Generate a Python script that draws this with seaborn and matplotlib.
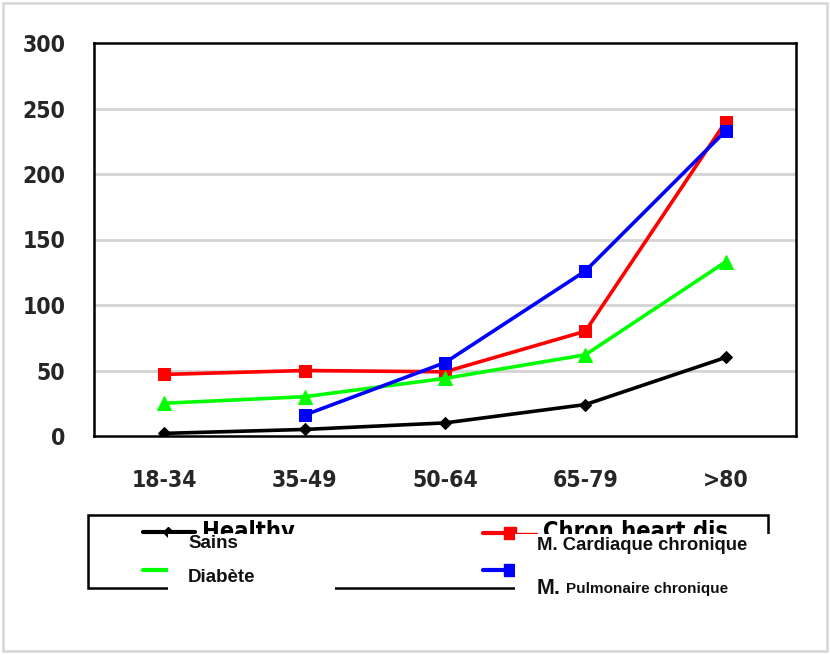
import numpy as np
import pandas as pd
import matplotlib
matplotlib.use("Agg")
import matplotlib.pyplot as plt
from matplotlib.lines import Line2D
from matplotlib.patches import Rectangle
from matplotlib.font_manager import FontProperties
import seaborn as sns

# ---- data ----
categories = ["18-34", "35-49", "50-64", "65-79", ">80"]
sains = [2, 5, 10, 24, 60]
cardiaque = [47, 50, 49, 80, 240]
diabete = [25, 30, 44, 62, 133]
pulmonaire = [np.nan, 16, 56, 126, 233]
y_ticks = [0, 50, 100, 150, 200, 250, 300]

series = [
    ("Sains", sains, "#000000", "D", 6),
    ("M. Cardiaque chronique", cardiaque, "#ff0000", "s", 9),
    ("Diabète", diabete, "#00ff00", "^", 10),
    ("M. Pulmonaire chronique", pulmonaire, "#0000ff", "s", 9),
]

sns.set_style("white")
arial = ["Liberation Sans", "DejaVu Sans"]
plt.rcParams["font.family"] = arial

def narrow(size):
    return FontProperties(family="DejaVu Sans", stretch="condensed",
                          weight="bold", size=size)

W, H = 830, 655
fig = plt.figure(figsize=(W / 100, H / 100), dpi=100)
fig.patch.set_facecolor("white")

def px(x0, y0, x1, y1):
    return [x0 / W, 1 - y1 / H, (x1 - x0) / W, (y1 - y0) / H]

ax = fig.add_axes(px(94, 43, 796, 436))
pos = np.arange(len(categories))
for name, vals, col, mk, ms in series:
    df = pd.DataFrame({"x": pos, "y": vals}).dropna()
    sns.lineplot(data=df, x="x", y="y", ax=ax, color=col, marker=mk,
                 markersize=ms, markeredgecolor=col, linewidth=2.6,
                 legend=False, zorder=3)

ax.set_xlim(-0.5, len(categories) - 0.5)
ax.set_ylim(0, 300)
ax.set_xlabel("")
ax.set_ylabel("")
ax.set_yticks(y_ticks)
ax.set_yticklabels([str(v) for v in y_ticks], fontproperties=narrow(16.5))
ax.set_xticks(pos)
ax.set_xticklabels(categories, fontproperties=narrow(16.5))
ax.set_xticks(np.arange(-0.5, len(categories)), minor=True)
ax.tick_params(axis="x", which="major", length=0, pad=24)
ax.tick_params(axis="x", which="minor", length=6.5, width=1.6, color="black",
               direction="out")
ax.tick_params(axis="y", which="major", length=6.5, width=1.6, color="black",
               direction="out", pad=14)
for v in y_ticks[1:-1]:
    ax.axhline(v, color="#d4d4d4", linewidth=2, zorder=1)
for s in ax.spines.values():
    s.set_visible(True)
    s.set_color("black")
    s.set_linewidth(1.8)

# ---- overlay for legend and frame (pixel coordinates) ----
ov = fig.add_axes([0, 0, 1, 1], zorder=10)
ov.set_xlim(0, W)
ov.set_ylim(H, 0)
ov.axis("off")
ov.patch.set_alpha(0)

ov.add_patch(Rectangle((3, 3), 824, 648, fill=False, edgecolor="#d6d6d6", lw=1.8))

# old legend box
ov.add_patch(Rectangle((88, 515), 680, 73, fill=False, edgecolor="black", lw=1.8))
ov.add_line(Line2D([143, 195], [532, 532], color=series[0][2], lw=3))
ov.add_line(Line2D([168], [532], color=series[0][2], marker="D", ms=5))
ov.text(202, 520, "Healthy", fontproperties=narrow(17),
        va="top", ha="left", color="black")
ov.add_line(Line2D([483, 510], [533, 533], color=series[1][2], lw=3))
ov.add_line(Line2D([510, 537], [533, 533], color=series[1][2], lw=1))
ov.add_line(Line2D([510], [533], color=series[1][2], marker="s", ms=8))
ov.text(543, 520, "Chron heart dis", fontproperties=narrow(17),
        va="top", ha="left", color="black")
ov.add_line(Line2D([143, 168], [570, 570], color=series[2][2], lw=3))
ov.add_line(Line2D([483, 515], [570, 570], color=series[3][2], lw=3))
ov.add_line(Line2D([510], [570], color=series[3][2], marker="s", ms=8))

# white cover boxes
ov.add_patch(Rectangle((168, 534), 167, 66, facecolor="white", edgecolor="none", zorder=5))
ov.add_patch(Rectangle((515, 534), 262, 66, facecolor="white", edgecolor="none", zorder=5))

tc = "#111111"
ov.text(188, 543, "Sains", fontweight="bold", fontsize=13.5, va="center",
        ha="left", color=tc, zorder=6)
ov.text(188, 577, "Diabète", fontweight="bold", fontsize=13.5, va="center",
        ha="left", color=tc, zorder=6)
ov.text(537, 546, "M. Cardiaque chronique", fontweight="bold", fontsize=13.3,
        va="center", ha="left", color=tc, zorder=6)
ov.text(537, 588, "M.", fontweight="bold", fontsize=15.5, va="center",
        ha="left", color=tc, zorder=6)
ov.text(566, 589, "Pulmonaire chronique", fontweight="bold", fontsize=11,
        va="center", ha="left", color=tc, zorder=6)

fig.savefig("out.png", dpi=100, facecolor="white")
